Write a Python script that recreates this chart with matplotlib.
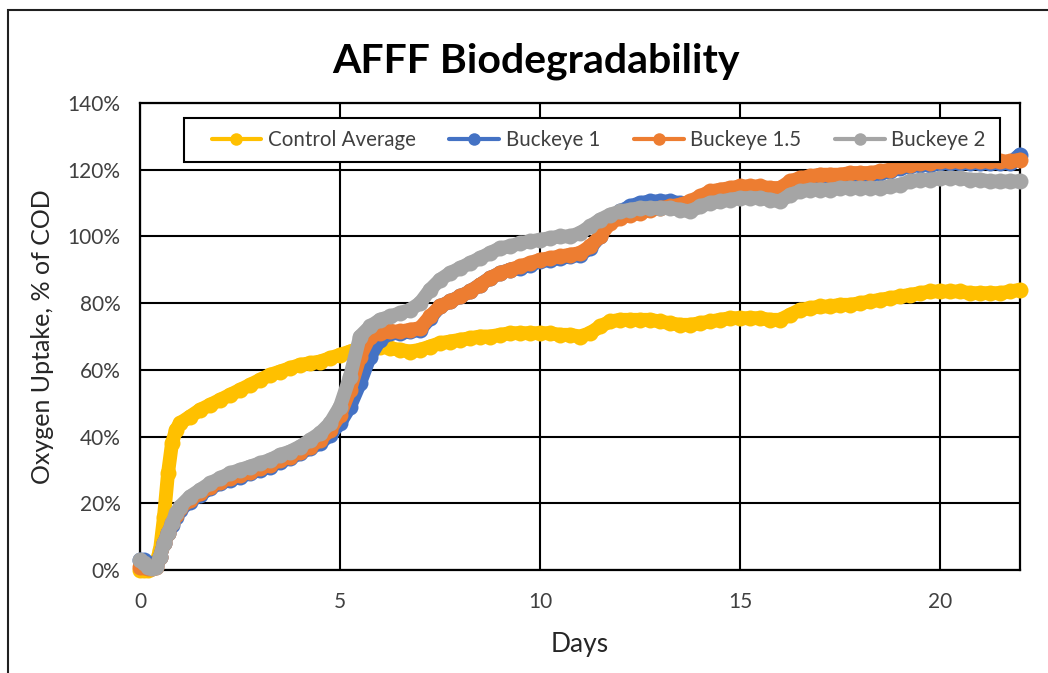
import matplotlib
matplotlib.use('Agg')
import matplotlib.pyplot as plt
from matplotlib.patches import Rectangle
from matplotlib.ticker import PercentFormatter

plt.rcParams['font.family'] = ['Lato', 'DejaVu Sans']

# ==========================================
# 数据
# ==========================================
days = [0, 0.1, 0.2, 0.3, 0.4, 0.5, 0.6, 0.7, 0.8, 0.9, 1.0,
        1.25, 1.5, 1.75, 2.0, 2.25, 2.5, 2.75, 3.0, 3.25, 3.5, 3.75, 4.0,
        4.25, 4.5, 4.75, 5.0, 5.25, 5.5, 5.75, 6.0, 6.25, 6.5, 6.75, 7.0,
        7.25, 7.5, 7.75, 8.0, 8.25, 8.5, 8.75, 9.0, 9.25, 9.5, 9.75, 10.0,
        10.25, 10.5, 10.75, 11.0, 11.25, 11.5, 11.75, 12.0, 12.25, 12.5, 12.75, 13.0,
        13.25, 13.5, 13.75, 14.0, 14.25, 14.5, 14.75, 15.0, 15.25, 15.5, 15.75, 16.0,
        16.25, 16.5, 16.75, 17.0, 17.25, 17.5, 17.75, 18.0, 18.25, 18.5, 18.75, 19.0,
        19.25, 19.5, 19.75, 20.0, 20.25, 20.5, 20.75, 21.0, 21.25, 21.5, 21.75, 22.0]

control_avg = [0, 0, 0, 0.5, 2, 6, 16, 29, 38, 42, 44,
               46, 48, 49.5, 51, 52.5, 54, 55.5, 57, 58.5, 59.5, 60.5, 61.5,
               62, 62.5, 63.5, 64.5, 65.5, 66.5, 67, 67, 66.5, 66, 65.5, 66,
               67, 68, 68.5, 69, 69.5, 70, 70, 70.5, 71, 71, 71, 71,
               71, 70.5, 70.5, 70, 71, 73, 74.5, 75, 75, 75, 75, 74.5,
               74, 73.5, 73.5, 74, 74.5, 75, 75.5, 75.5, 75.5, 75.5, 75, 75,
               76.5, 78, 78.5, 79, 79, 79.5, 79.5, 80, 80.5, 81, 81.5, 82,
               82.5, 83, 83.5, 83.5, 83.5, 83.5, 83, 83, 83, 83, 83.5, 84]

buckeye_1 = [3, 3, 2, 1, 1.5, 4, 8, 11, 13.5, 16, 18,
             20.5, 22.5, 24.5, 26, 27, 28, 29, 30, 31, 32.5, 33.5, 35,
             36.5, 38, 40.5, 44, 49, 56, 64, 69, 71, 71, 71.5, 72,
             75.5, 79, 80.5, 82, 83.5, 85.5, 87.5, 89, 90, 90.5, 91.5, 92.5,
             93, 93.5, 94, 94.5, 96.5, 100, 105, 107.5, 109, 110, 110.5, 110.5,
             110.5, 110, 109.5, 111.5, 113, 113.5, 114, 114.5, 114.5, 114.5, 114, 114,
             116, 117, 117.5, 118, 118, 118, 118.5, 118.5, 118.5, 119, 119.5, 120.5,
             121, 121.5, 121.5, 122, 122, 122, 122, 122, 122, 122, 122, 124.5]

buckeye_15 = [1, 1, 0.5, 0.5, 1, 4, 8, 11, 14, 16.5, 18.5,
              21, 23, 25, 26.5, 27.5, 28.5, 29.5, 30.5, 31.5, 33, 34, 35.5,
              37, 39, 42, 46.5, 54, 64, 70, 71, 71.5, 71.5, 72, 72.5,
              76, 79, 80.5, 82, 83.5, 85.5, 87.5, 89, 90, 91, 92, 93,
              93.5, 94, 94.5, 95, 97, 100, 104, 105.5, 106.5, 107, 108, 108.5,
              109, 109.5, 110.5, 112, 113.5, 114, 114.5, 115, 115, 115, 114.5, 114.5,
              116.5, 117.5, 118, 118.5, 118.5, 118.5, 119, 119, 119, 119.5, 120, 121,
              121.5, 122, 122, 122.5, 122.5, 122.5, 122.5, 122.5, 122.5, 122.5, 122.5, 123]

buckeye_2 = [3, 2, 1, 0.5, 1, 4, 8, 11, 14, 17, 19,
             22, 24, 26, 27.5, 29, 30, 31, 32, 33, 34.5, 35.5, 37,
             39, 41, 44, 49, 58, 70, 73, 75, 76, 77, 78, 80,
             84, 87, 89, 90.5, 92, 93.5, 95, 96.5, 97, 98, 98.5, 99,
             99.5, 100, 100, 101, 103, 105, 106.5, 107.5, 108, 108.5, 108.5, 108.5,
             108.5, 108, 107.5, 109, 110, 110.5, 111, 111.5, 111.5, 111.5, 111, 110.5,
             112.5, 113.5, 114, 114, 114, 114.5, 114.5, 114.5, 114.5, 114.5, 115, 115.5,
             116.5, 117, 117, 117.5, 117.5, 117.5, 117, 117, 116.5, 116.5, 116.5, 116.5]

series_names = ['Control Average', 'Buckeye 1', 'Buckeye 1.5', 'Buckeye 2']
series_colors = ['#FFC000', '#4472C4', '#ED7D31', '#A5A5A5']

# ==========================================
# 绘图
# ==========================================
W, H = 1048, 673
fig = plt.figure(figsize=(W / 100, H / 100), dpi=100)
ax = fig.add_axes([140 / W, 1 - 570 / H, 880 / W, 467 / H])

for vals, name, color in zip([control_avg, buckeye_1, buckeye_15, buckeye_2],
                             series_names, series_colors):
    ax.plot(days, vals, color=color, linewidth=10, marker='o', markersize=11.5,
            markeredgewidth=0, label=name, solid_capstyle='round',
            solid_joinstyle='round', clip_on=False)

ax.set_xlim(0, 22)
ax.set_ylim(0, 140)
ax.set_xticks([0, 5, 10, 15, 20])
ax.set_yticks(range(0, 141, 20))
ax.yaxis.set_major_formatter(PercentFormatter(decimals=0))
ax.grid(True, color='black', linewidth=1.5)
ax.set_axisbelow(True)
for sp in ax.spines.values():
    sp.set_color('black')
    sp.set_linewidth(1.6)
    sp.set_zorder(0.5)
ax.tick_params(length=0, labelsize=15, colors='#404040')
ax.tick_params(axis='x', pad=16)
ax.tick_params(axis='y', pad=14)

ax.set_xlabel('Days', fontsize=19, color='#262626', labelpad=14)
ax.set_ylabel('Oxygen Uptake, % of COD', fontsize=18, color='#262626', labelpad=10)

fig.text(536 / W, 1 - 61 / H, 'AFFF Biodegradability', fontsize=29.5,
         fontweight='bold', ha='center', va='center', color='black')

# legend box (drawn separately so the padding matches the original)
ax.add_patch(Rectangle(((184 - 140) / 880, (570 - 162) / 467), 816 / 880, 44 / 467,
                       transform=ax.transAxes, facecolor='white', edgecolor='black',
                       linewidth=1.5, zorder=5, clip_on=False))
leg = ax.legend(loc='center', ncol=4,
                bbox_to_anchor=((598.5 - 140) / 880, (570 - 140) / 467),
                fontsize=14.8, frameon=False, handlelength=2.43,
                handletextpad=0.3, columnspacing=1.65, borderpad=0.2,
                borderaxespad=0)
leg.set_zorder(6)
for h in leg.get_lines():
    h.set_linewidth(3)
    h.set_markersize(9)
for t in leg.get_texts():
    t.set_color('#404040')

# outer chart border
fig.patches.append(Rectangle((8 / W, -0.1), 1.2, 1 - 10 / H + 0.1,
                             transform=fig.transFigure, fill=False,
                             edgecolor='#202020', linewidth=1.5))

plt.savefig('out.png', dpi=100)
plt.close()
